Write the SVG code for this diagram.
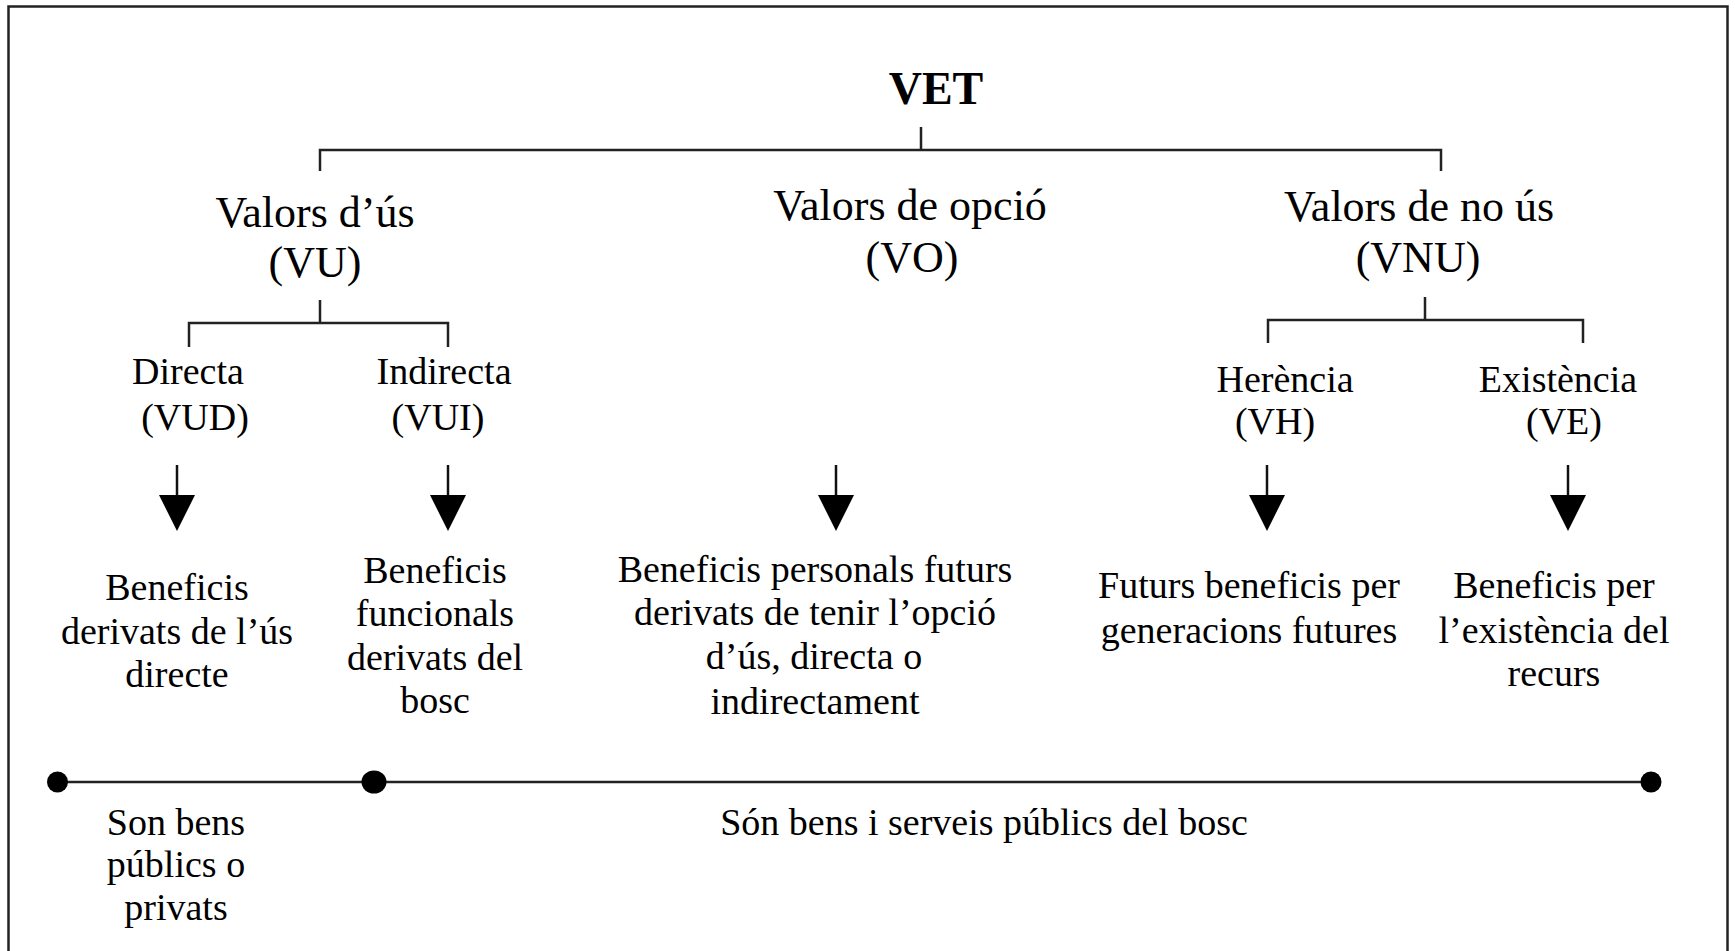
<svg xmlns="http://www.w3.org/2000/svg" xmlns:xlink="http://www.w3.org/1999/xlink" width="1735" height="951" viewBox="0 0 1735 951">
<style>
text{font-family:"Liberation Serif","Times New Roman",serif;fill:#000;text-anchor:middle}
.t1{font-size:46px;font-weight:bold}
.t2{font-size:44px}
.t3{font-size:38px}
.ln{stroke:#222;stroke-width:2.5;fill:none}
</style>
<defs>
<g id="arrow">
<line x1="0" y1="0" x2="0" y2="32" stroke="#111" stroke-width="2.5"/>
<polygon points="-18,30 18,30 0,66" fill="#000"/>
</g>
</defs>
<rect x="0" y="0" width="1735" height="951" fill="#fff"/>
<rect x="8.5" y="6.5" width="1719" height="980" fill="none" stroke="#222" stroke-width="2.5"/>

<g id="connectors">
<path class="ln" d="M921,127 V150 M320,171 V150 H1441 V171"/>
<path class="ln" d="M320,300 V323 M189,347 V323 H448 V347"/>
<path class="ln" d="M1425,297 V320 M1268,343 V320 H1583 V343"/>
<use xlink:href="#arrow" x="177" y="465"/>
<use xlink:href="#arrow" x="448" y="465"/>
<use xlink:href="#arrow" x="836" y="465"/>
<use xlink:href="#arrow" x="1267" y="465"/>
<use xlink:href="#arrow" x="1568" y="465"/>
</g>

<g id="vet"><text class="t1" x="936" y="104">VET</text></g>
<g id="vu"><text class="t2" x="315" y="227">Valors d’ús</text><text class="t2" x="315" y="277">(VU)</text></g>
<g id="vo"><text class="t2" x="910" y="220">Valors de opció</text><text class="t2" x="912" y="272">(VO)</text></g>
<g id="vnu"><text class="t2" x="1419" y="221">Valors de no ús</text><text class="t2" x="1418" y="272">(VNU)</text></g>

<g id="vud"><text class="t3" x="188" y="384">Directa</text><text class="t3" x="195" y="430">(VUD)</text></g>
<g id="vui"><text class="t3" x="444" y="384">Indirecta</text><text class="t3" x="438" y="430">(VUI)</text></g>
<g id="vh"><text class="t3" x="1285" y="392">Herència</text><text class="t3" x="1275" y="434">(VH)</text></g>
<g id="ve"><text class="t3" x="1558" y="392">Existència</text><text class="t3" x="1564" y="434">(VE)</text></g>

<g id="b-vud"><text class="t3" x="177" y="600">Beneficis</text><text class="t3" x="177" y="644">derivats de l’ús</text><text class="t3" x="177" y="687">directe</text></g>
<g id="b-vui"><text class="t3" x="435" y="583">Beneficis</text><text class="t3" x="435" y="626">funcionals</text><text class="t3" x="435" y="670">derivats del</text><text class="t3" x="435" y="713">bosc</text></g>
<g id="b-vo"><text class="t3" x="815" y="582">Beneficis personals futurs</text><text class="t3" x="815" y="625">derivats de tenir l’opció</text><text class="t3" x="814" y="669">d’ús, directa o</text><text class="t3" x="815" y="714">indirectament</text></g>
<g id="b-vh"><text class="t3" x="1249" y="598">Futurs beneficis per</text><text class="t3" x="1249" y="643">generacions futures</text></g>
<g id="b-ve"><text class="t3" x="1554" y="598">Beneficis per</text><text class="t3" x="1554" y="643">l’existència del</text><text class="t3" x="1554" y="686">recurs</text></g>

<g id="scale">
<line class="ln" x1="57" y1="782" x2="1651" y2="782"/>
<circle cx="57.5" cy="782" r="10.5" fill="#000"/>
<ellipse cx="374" cy="782" rx="12.5" ry="11.5" fill="#000"/>
<circle cx="1651" cy="782" r="10.5" fill="#000"/>
</g>
<g id="private"><text class="t3" x="176" y="835">Son bens</text><text class="t3" x="176" y="877">públics o</text><text class="t3" x="176" y="920">privats</text></g>
<g id="public"><text class="t3" x="984" y="835">Són bens i serveis públics del bosc</text></g>
</svg>
